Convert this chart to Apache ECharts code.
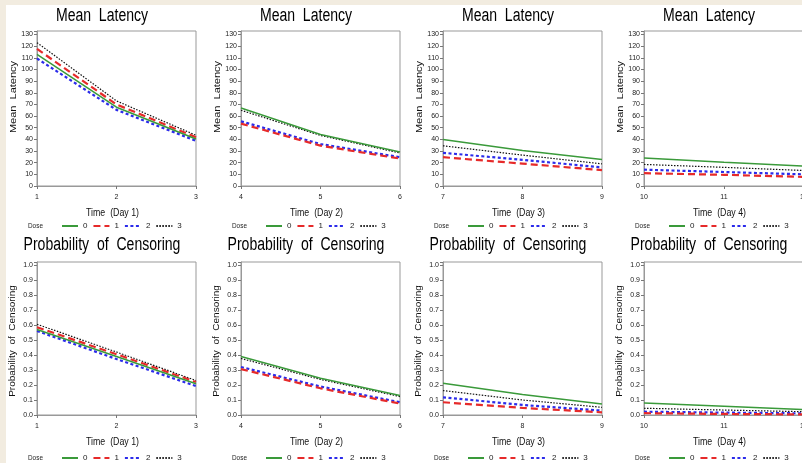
<!DOCTYPE html>
<html>
<head>
<meta charset="utf-8">
<script src="https://cdn.jsdelivr.net/npm/echarts@6/dist/echarts.min.js"></script>
<style>
  html, body { margin: 0; padding: 0; background: #fff; }
  #chart { width: 802px; height: 463px; }
</style>
</head>
<body>
<div id="chart"></div>
<script>
// days shown in each column
const days = [[1, 2, 3], [4, 5, 6], [7, 8, 9], [10, 11, 12]];
const dayNames = ['Time  (Day 1)', 'Time  (Day 2)', 'Time  (Day 3)', 'Time  (Day 4)'];
const doses = ['0', '1', '2', '3'];

// mean latency, per dose, per day
const latDose0 = [[113, 67.6, 40.3], [67, 44.2, 29.2], [40, 30.5, 22.7], [24, 20.3, 17]];
const latDose1 = [[117.6, 70, 41.8], [53.5, 34.6, 23.5], [24.7, 19.2, 13.6], [11, 9.6, 7.8]];
const latDose2 = [[109.4, 65.3, 38.8], [55.5, 36, 24.7], [28.5, 22.4, 16], [14, 12, 10]];
const latDose3 = [[123, 73, 43.5], [65, 43.4, 28.3], [34.5, 26.5, 19], [18.5, 16, 13.3]];

// probability of censoring, per dose, per day
const probDose0 = [[0.57, 0.39, 0.208], [0.39, 0.245, 0.13], [0.212, 0.136, 0.074], [0.08, 0.058, 0.036]];
const probDose1 = [[0.585, 0.405, 0.22], [0.306, 0.178, 0.076], [0.085, 0.047, 0.018], [0.012, 0.007, 0.004]];
const probDose2 = [[0.56, 0.373, 0.193], [0.32, 0.19, 0.085], [0.118, 0.067, 0.029], [0.022, 0.016, 0.011]];
const probDose3 = [[0.605, 0.42, 0.23], [0.377, 0.237, 0.123], [0.163, 0.1, 0.051], [0.045, 0.033, 0.022]];

const latency = [latDose0, latDose1, latDose2, latDose3];
const probability = [probDose0, probDose1, probDose2, probDose3];

const FONT = 'Liberation Sans, Arial, sans-serif';
const lineStyles = [
  { color: '#3a9a3a', width: 1.5, type: 'solid' },
  { color: '#e62a2a', width: 2.2, type: [7, 4] },
  { color: '#2b2bea', width: 2.2, type: [3, 2.5] },
  { color: '#111111', width: 1.2, type: [1.5, 1.5] }
];

const lefts = [37, 241, 443, 644];
const widths = [159, 159, 159, 160];
const rows = [
  { title: 'Mean  Latency', yName: 'Mean  Latency', top: 31, height: 155, max: 133, step: 10,
    data: latency, titleY: 16, nameY: 213, legendY: 226, yNameY: 97, yNameSize: 11,
    fmt: v => (v % 10 === 0 ? String(v) : '') },
  { title: 'Probability  of  Censoring', yName: 'Probability  of  Censoring', top: 262, height: 153, max: 1.02, step: 0.1,
    data: probability, titleY: 245, nameY: 442, legendY: 458, yNameY: 341, yNameSize: 10,
    fmt: v => (v <= 1.0001 ? v.toFixed(1) : '') }
];

const grid = [], xAxis = [], yAxis = [], series = [], legend = [];
const graphic = [
  { type: 'rect', shape: { x: 0, y: 0, width: 6, height: 463 }, style: { fill: '#f2ece0' } },
  { type: 'rect', shape: { x: 0, y: 0, width: 802, height: 5 }, style: { fill: '#f2ece0' } }
];

rows.forEach((row, r) => {
  days.forEach((d, c) => {
    const idx = r * 4 + c;
    const left = lefts[c];
    grid.push({ left: left, top: row.top, width: widths[c], height: row.height, show: true,
      containLabel: false, outerBoundsMode: 'none',
      backgroundColor: '#fff', borderColor: '#999', borderWidth: 1 });
    xAxis.push({
      type: 'value', gridIndex: idx, min: d[0], max: d[2], interval: 1,
      axisLine: { show: true, lineStyle: { color: '#999' } },
      axisTick: { show: true, length: 3, lineStyle: { color: '#777' } },
      axisLabel: { fontSize: 7, color: '#222', margin: 8, fontFamily: FONT },
      splitLine: { show: false }
    });
    yAxis.push({
      type: 'value', gridIndex: idx, min: 0, max: row.max, interval: row.step,
      axisLine: { show: true, lineStyle: { color: '#999' } },
      axisTick: { show: true, length: 3, lineStyle: { color: '#777' } },
      axisLabel: { fontSize: 7, color: '#222', margin: 4, fontFamily: FONT, formatter: row.fmt },
      splitLine: { show: false }
    });
    doses.forEach((dose, k) => {
      series.push({
        type: 'line', name: dose, xAxisIndex: idx, yAxisIndex: idx,
        data: d.map((x, i) => [x, row.data[k][c][i]]),
        symbol: 'none', showSymbol: false, silent: true,
        color: lineStyles[k].color, lineStyle: lineStyles[k], z: 10 - k
      });
    });
    legend.push({
      data: doses, left: left + 24, top: row.legendY - 4, padding: 0,
      itemWidth: 16, itemHeight: 8, itemGap: 5, selectedMode: false,
      itemStyle: { color: 'transparent', borderWidth: 0, opacity: 0 },
      textStyle: { fontSize: 8, color: '#222', fontFamily: FONT }
    });
    // panel title
    graphic.push({ type: 'text', x: left + 65, y: row.titleY, scaleX: 0.78,
      style: { text: row.title, fontSize: 18, fontFamily: FONT, fill: '#000', align: 'center', verticalAlign: 'middle' } });
    // x axis name
    graphic.push({ type: 'text', x: left + 159 / 2 - 4, y: row.nameY, scaleX: 0.8,
      style: { text: dayNames[c], fontSize: 11, fontFamily: FONT, fill: '#111', align: 'center', verticalAlign: 'middle' } });
    // y axis name
    graphic.push({ type: 'text', x: left - 24, y: row.yNameY, rotation: Math.PI / 2, scaleY: 0.85,
      style: { text: row.yName, fontSize: row.yNameSize, fontFamily: FONT, fill: '#111', align: 'center', verticalAlign: 'middle' } });
    // legend caption
    graphic.push({ type: 'text', x: left - 9, y: row.legendY, scaleX: 0.8,
      style: { text: 'Dose', fontSize: 8, fontFamily: FONT, fill: '#222', align: 'left', verticalAlign: 'middle' } });
  });
});

const chart = echarts.init(document.getElementById('chart'));
chart.setOption({
  animation: false,
  backgroundColor: '#fff',
  grid: grid,
  xAxis: xAxis,
  yAxis: yAxis,
  legend: legend,
  series: series,
  graphic: graphic
});
</script>
</body>
</html>
